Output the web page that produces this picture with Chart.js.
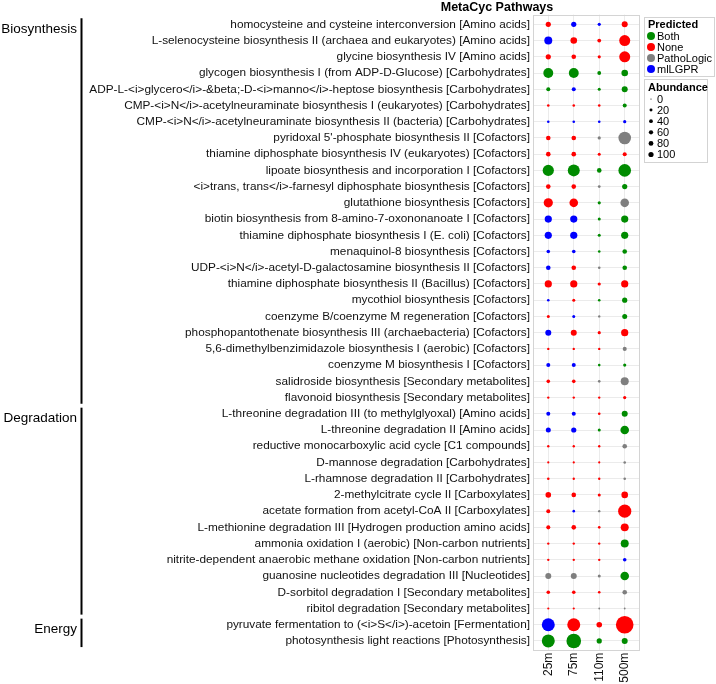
<!DOCTYPE html>
<html>
<head>
<meta charset="utf-8">
<script src="https://cdn.jsdelivr.net/npm/chart.js@4.4.0/dist/chart.umd.min.js"></script>
<style>
	html, body { margin: 0; padding: 0; background: #fff; }
	#wrap { width: 716px; height: 684px; }
</style>
</head>
<body>
<div id="wrap"><canvas id="chart" width="716" height="684"></canvas></div>
<script>
const depths = ['25m', '75m', '110m', '500m'];

const pathways = [
	'homocysteine and cysteine interconversion [Amino acids]',
	'L-selenocysteine biosynthesis II (archaea and eukaryotes) [Amino acids]',
	'glycine biosynthesis IV [Amino acids]',
	'glycogen biosynthesis I (from ADP-D-Glucose) [Carbohydrates]',
	'ADP-L-<i>glycero</i>-&beta;-D-<i>manno</i>-heptose biosynthesis [Carbohydrates]',
	'CMP-<i>N</i>-acetylneuraminate biosynthesis I (eukaryotes) [Carbohydrates]',
	'CMP-<i>N</i>-acetylneuraminate biosynthesis II (bacteria) [Carbohydrates]',
	'pyridoxal 5\'-phosphate biosynthesis II [Cofactors]',
	'thiamine diphosphate biosynthesis IV (eukaryotes) [Cofactors]',
	'lipoate biosynthesis and incorporation I [Cofactors]',
	'<i>trans, trans</i>-farnesyl diphosphate biosynthesis [Cofactors]',
	'glutathione biosynthesis [Cofactors]',
	'biotin biosynthesis from 8-amino-7-oxononanoate I [Cofactors]',
	'thiamine diphosphate biosynthesis I (E. coli) [Cofactors]',
	'menaquinol-8 biosynthesis [Cofactors]',
	'UDP-<i>N</i>-acetyl-D-galactosamine biosynthesis II [Cofactors]',
	'thiamine diphosphate biosynthesis II (Bacillus) [Cofactors]',
	'mycothiol biosynthesis [Cofactors]',
	'coenzyme B/coenzyme M regeneration [Cofactors]',
	'phosphopantothenate biosynthesis III (archaebacteria) [Cofactors]',
	'5,6-dimethylbenzimidazole biosynthesis I (aerobic) [Cofactors]',
	'coenzyme M biosynthesis I [Cofactors]',
	'salidroside biosynthesis [Secondary metabolites]',
	'flavonoid biosynthesis [Secondary metabolites]',
	'L-threonine degradation III (to methylglyoxal) [Amino acids]',
	'L-threonine degradation II [Amino acids]',
	'reductive monocarboxylic acid cycle [C1 compounds]',
	'D-mannose degradation [Carbohydrates]',
	'L-rhamnose degradation II [Carbohydrates]',
	'2-methylcitrate cycle II [Carboxylates]',
	'acetate formation from acetyl-CoA II [Carboxylates]',
	'L-methionine degradation III [Hydrogen production amino acids]',
	'ammonia oxidation I (aerobic) [Non-carbon nutrients]',
	'nitrite-dependent anaerobic methane oxidation [Non-carbon nutrients]',
	'guanosine nucleotides degradation III [Nucleotides]',
	'D-sorbitol degradation I [Secondary metabolites]',
	'ribitol degradation [Secondary metabolites]',
	'pyruvate fermentation to (<i>S</i>)-acetoin [Fermentation]',
	'photosynthesis light reactions [Photosynthesis]'
];

const groupNames = ['Biosynthesis', 'Degradation', 'Energy'];
const groupSizes = [24, 13, 2];

// B = Both, N = None, P = PathoLogic, M = mlLGPR
const predNames = ['Both', 'None', 'PathoLogic', 'mlLGPR'];
const predCodes = ['B', 'N', 'P', 'M'];
const predColors = ['#008B00', '#FF0000', '#7F7F7F', '#0000FF'];

const pred25  = ['N','M','N','B','B','N','M','N','N','B','N','N','M','M','M','M','N','M','N','M','N','M','N','N','M','M','N','N','N','N','N','N','N','N','P','N','N','M','B'];
const pred75  = ['M','N','N','B','M','N','M','N','N','B','N','N','M','M','M','N','N','N','M','N','N','M','N','N','M','M','N','N','N','N','M','N','N','N','P','N','N','N','B'];
const pred110 = ['M','N','N','B','B','N','M','P','N','B','P','B','B','B','B','P','N','B','P','N','N','B','P','N','N','B','N','N','N','N','P','N','N','N','P','N','P','N','B'];
const pred500 = ['N','N','N','B','B','B','M','P','N','B','B','P','B','B','B','B','N','B','B','N','P','B','P','N','B','B','P','P','P','N','N','N','B','M','B','P','P','N','B'];

const abund25  = [72,240,72,412,31,4,4,49,49,552,49,342,182,182,20,49,182,4,9,110,2,31,20,2,31,64,2,1,4,90,31,31,2,2,110,20,1,784,784];
const abund75  = [72,144,49,412,31,4,4,49,49,650,49,289,182,182,20,49,182,9,9,110,2,31,20,2,31,72,2,1,2,49,4,49,2,2,110,20,1,784,1024];
const abund110 = [12,25,12,25,9,4,4,12,9,49,6,12,9,9,4,4,12,4,2,12,2,4,4,2,4,9,2,1,2,9,2,4,2,2,9,4,0,90,72];
const abund500 = [110,529,529,144,110,31,12,729,31,729,72,289,182,182,49,49,182,72,64,182,31,12,240,12,110,289,49,4,4,144,812,240,240,20,289,49,0,1560,110];

const legendSizes = [0, 20, 40, 60, 80, 100];

const preds = [pred25, pred75, pred110, pred500];
const abunds = [abund25, abund75, abund110, abund500];

function radius(a) { return 0.9 + 0.2 * Math.sqrt(a); }

const FONT = "'Liberation Sans', Arial, sans-serif";
Chart.defaults.font.family = FONT;

const datasets = predCodes.map((code, k) => {
	const data = [];
	depths.forEach((d, xi) => {
		pathways.forEach((p, yi) => {
			if (preds[xi][yi] === code) data.push({ x: xi, y: yi, r: radius(abunds[xi][yi]) });
		});
	});
	return { label: predNames[k], data, backgroundColor: predColors[k], borderWidth: 0, hoverBorderWidth: 0 };
});

const decorPlugin = {
	id: 'decor',
	afterDraw(chart) {
		const { ctx, chartArea: a, scales: { y } } = chart;
		ctx.save();
		// panel border
		ctx.strokeStyle = '#d4d4d4';
		ctx.lineWidth = 1;
		ctx.strokeRect(Math.round(a.left) + 0.5, Math.round(a.top) + 0.5, Math.round(a.right - a.left) - 1, Math.round(a.bottom - a.top) - 1);

		// title
		ctx.fillStyle = '#000';
		ctx.font = 'bold 12.5px ' + FONT;
		ctx.textAlign = 'center';
		ctx.textBaseline = 'middle';
		ctx.fillText('MetaCyc Pathways', 497, 7.5);

		// group brackets
		let start = 0;
		groupNames.forEach((g, i) => {
			const end = start + groupSizes[i] - 1;
			const top = y.getPixelForValue(start - 0.5) + 2;
			const bot = y.getPixelForValue(end + 0.5) - 2;
			ctx.strokeStyle = '#000';
			ctx.lineWidth = 2;
			ctx.beginPath();
			ctx.moveTo(81.5, top);
			ctx.lineTo(81.5, bot);
			ctx.stroke();
			ctx.font = '13.5px ' + FONT;
			ctx.textAlign = 'right';
			ctx.textBaseline = 'middle';
			ctx.fillStyle = '#000';
			ctx.fillText(g, 77, top + 11);
			start = end + 1;
		});

		// legend: Predicted
		ctx.lineWidth = 1;
		ctx.strokeStyle = '#d3d3d3';
		ctx.strokeRect(644.5, 17.5, 70, 59);
		ctx.textAlign = 'left';
		ctx.font = 'bold 11px ' + FONT;
		ctx.fillStyle = '#000';
		ctx.fillText('Predicted', 648, 24.5);
		ctx.font = '11px ' + FONT;
		predNames.forEach((n, i) => {
			const cy = 36 + i * 11;
			ctx.fillStyle = predColors[i];
			ctx.beginPath();
			ctx.arc(651, cy, 4, 0, Math.PI * 2);
			ctx.fill();
			ctx.fillStyle = '#000';
			ctx.fillText(n, 657, cy + 0.5);
		});

		// legend: Abundance
		ctx.strokeRect(644.5, 79.5, 63, 83);
		ctx.font = 'bold 11px ' + FONT;
		ctx.fillText('Abundance', 648, 87.5);
		ctx.font = '11px ' + FONT;
		legendSizes.forEach((v, i) => {
			const cy = 99 + i * 11.1;
			ctx.beginPath();
			ctx.arc(651, cy, radius(v) - 0.3, 0, Math.PI * 2);
			ctx.fill();
			ctx.fillText(String(v), 657, cy + 0.5);
		});
		ctx.restore();
	}
};

new Chart(document.getElementById('chart'), {
	type: 'bubble',
	data: { datasets },
	options: {
		responsive: false,
		animation: false,
		devicePixelRatio: 1,
		layout: { padding: { left: 85, right: 76, top: 14.6, bottom: 0 } },
		plugins: { legend: { display: false }, tooltip: { enabled: false } },
		scales: {
			x: {
				type: 'linear',
				min: -0.6,
				max: 3.6,
				afterBuildTicks: s => { s.ticks = depths.map((d, i) => ({ value: i })); },
				afterFit: s => { s.height = 33.3; },
				grid: { color: '#ebebeb', drawTicks: false },
				border: { display: false },
				ticks: {
					callback: v => depths[v],
					minRotation: 90,
					maxRotation: 90,
					padding: 2,
					color: '#111',
					font: { size: 12 }
				}
			},
			y: {
				type: 'linear',
				reverse: true,
				min: -0.6,
				max: pathways.length - 0.4,
				afterBuildTicks: s => { s.ticks = pathways.map((p, i) => ({ value: i })); },
				afterFit: s => { s.width = 448; },
				grid: { color: '#ebebeb', drawTicks: false },
				border: { display: false },
				ticks: {
					autoSkip: false,
					callback: v => pathways[v],
					padding: 3,
					color: '#111',
					font: { size: 11.8 }
				}
			}
		}
	},
	plugins: [decorPlugin]
});
</script>
</body>
</html>
